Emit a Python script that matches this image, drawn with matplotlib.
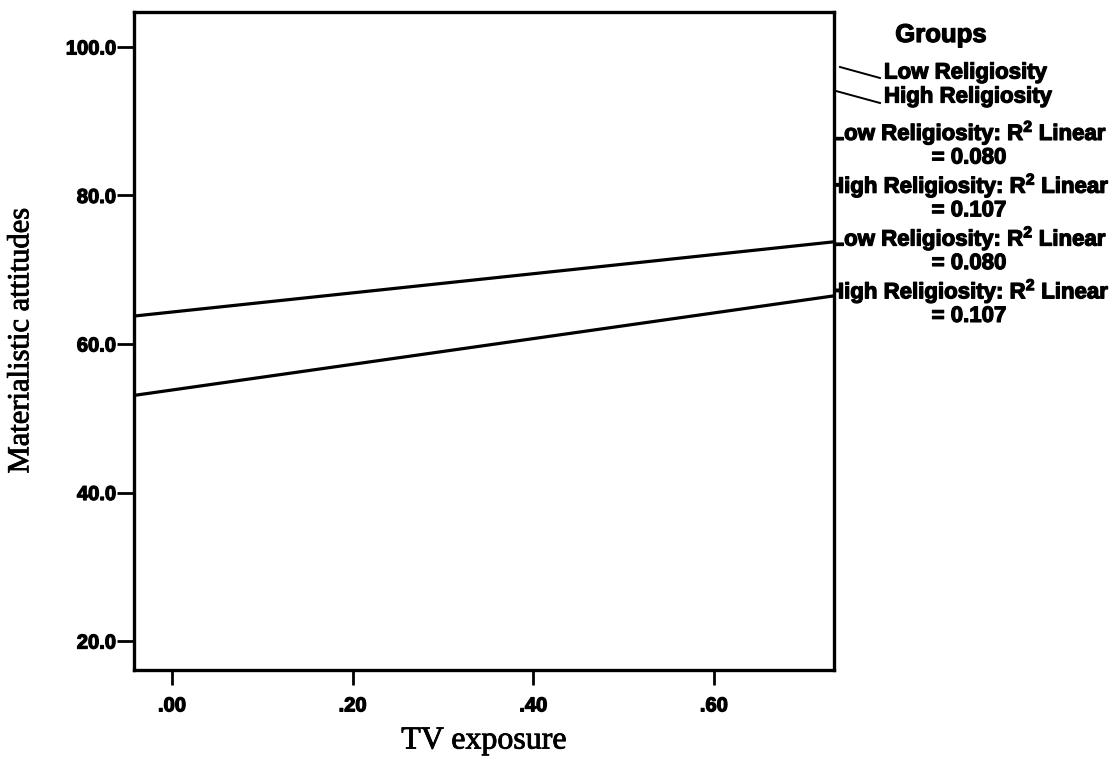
import numpy as np
import matplotlib
matplotlib.use("Agg")
import matplotlib.pyplot as plt
from matplotlib.lines import Line2D
import matplotlib.patheffects as pe

# Linear fits of materialistic attitudes on TV exposure, per religiosity group
groups = ["Low Religiosity", "High Religiosity"]
intercepts = [64.3, 53.8]
slopes = [12.9, 17.3]
r_squared = ["0.080", "0.107"]

x_limits = (-0.042, 0.733)
y_limits = (16.1, 104.7)
x_ticks = [0.0, 0.2, 0.4, 0.6]
x_tick_labels = [".00", ".20", ".40", ".60"]
y_ticks = [20, 40, 60, 80, 100]
y_tick_labels = ["20.0", "40.0", "60.0", "80.0", "100.0"]

plt.rcParams["mathtext.fontset"] = "custom"
plt.rcParams["mathtext.rm"] = "Liberation Sans:bold"
plt.rcParams["mathtext.bf"] = "Liberation Sans:bold"
plt.rcParams["mathtext.it"] = "Liberation Sans:bold"

heavy = [pe.withStroke(linewidth=0.9, foreground="black")]
heavy_serif = [pe.withStroke(linewidth=0.6, foreground="black")]

W, H = 1117, 763
fig = plt.figure(figsize=(W / 100, H / 100), dpi=100)
ax = fig.add_axes([134 / W, 1 - 670 / H, (834 - 134) / W, (670 - 12) / H])

xs = np.array(x_limits)
for b0, b1 in zip(intercepts, slopes):
    ax.plot(xs, b0 + b1 * xs, color="black", lw=2.3, solid_capstyle="butt")

ax.set_xlim(*x_limits)
ax.set_ylim(*y_limits)
ax.set_xticks(x_ticks)
ax.set_xticklabels(x_tick_labels)
ax.set_yticks(y_ticks)
ax.set_yticklabels(y_tick_labels)

for sp in ax.spines.values():
    sp.set_linewidth(2.4)
ax.tick_params(axis="both", direction="out", width=2.0, color="black")
ax.tick_params(axis="y", length=12, pad=1)
ax.tick_params(axis="x", length=11, pad=8)
for lab in ax.get_xticklabels() + ax.get_yticklabels():
    lab.set_fontfamily("Liberation Sans")
    lab.set_fontweight("bold")
    lab.set_fontsize(14.5)
    lab.set_path_effects(heavy)

ax.set_xlabel("TV exposure", family="Liberation Serif", fontsize=23, labelpad=8,
              path_effects=heavy_serif)
ax.set_ylabel("Materialistic attitudes", family="Liberation Serif", fontsize=22,
              labelpad=22, path_effects=heavy_serif)

# Legend block on the right of the plot
fig.text(941 / W, 1 - 35 / H, "Groups", family="Liberation Sans", fontweight="bold",
         fontsize=18.5, ha="center", va="center", path_effects=heavy)
legend_y = [73, 97]
sample_lines = [((840, 67), (880, 78)), ((836, 91), (880, 103))]
for name, ly, ((x0, y0), (x1, y1)) in zip(groups, legend_y, sample_lines):
    fig.add_artist(Line2D([x0 / W, x1 / W], [1 - y0 / H, 1 - y1 / H],
                          transform=fig.transFigure, color="black", lw=1.4))
    fig.text(884 / W, 1 - ly / H, name, family="Liberation Sans", fontweight="bold",
             fontsize=16, ha="left", va="center", path_effects=heavy)

# Fit-line annotations, listed twice as in the chart key
row = 0
for _ in range(2):
    for name, r2 in zip(groups, r_squared):
        y1 = 133 + 26.4 * row
        y2 = y1 + 25
        fig.text(969 / W, 1 - y1 / H, name + ": R$^{2}$ Linear", family="Liberation Sans",
                 fontweight="bold", fontsize=16, ha="center", va="center", zorder=-1,
                 path_effects=heavy)
        fig.text(969 / W, 1 - y2 / H, "= " + r2, family="Liberation Sans",
                 fontweight="bold", fontsize=16, ha="center", va="center", zorder=-1,
                 path_effects=heavy)
        row += 2

fig.savefig("out.png", dpi=100)
